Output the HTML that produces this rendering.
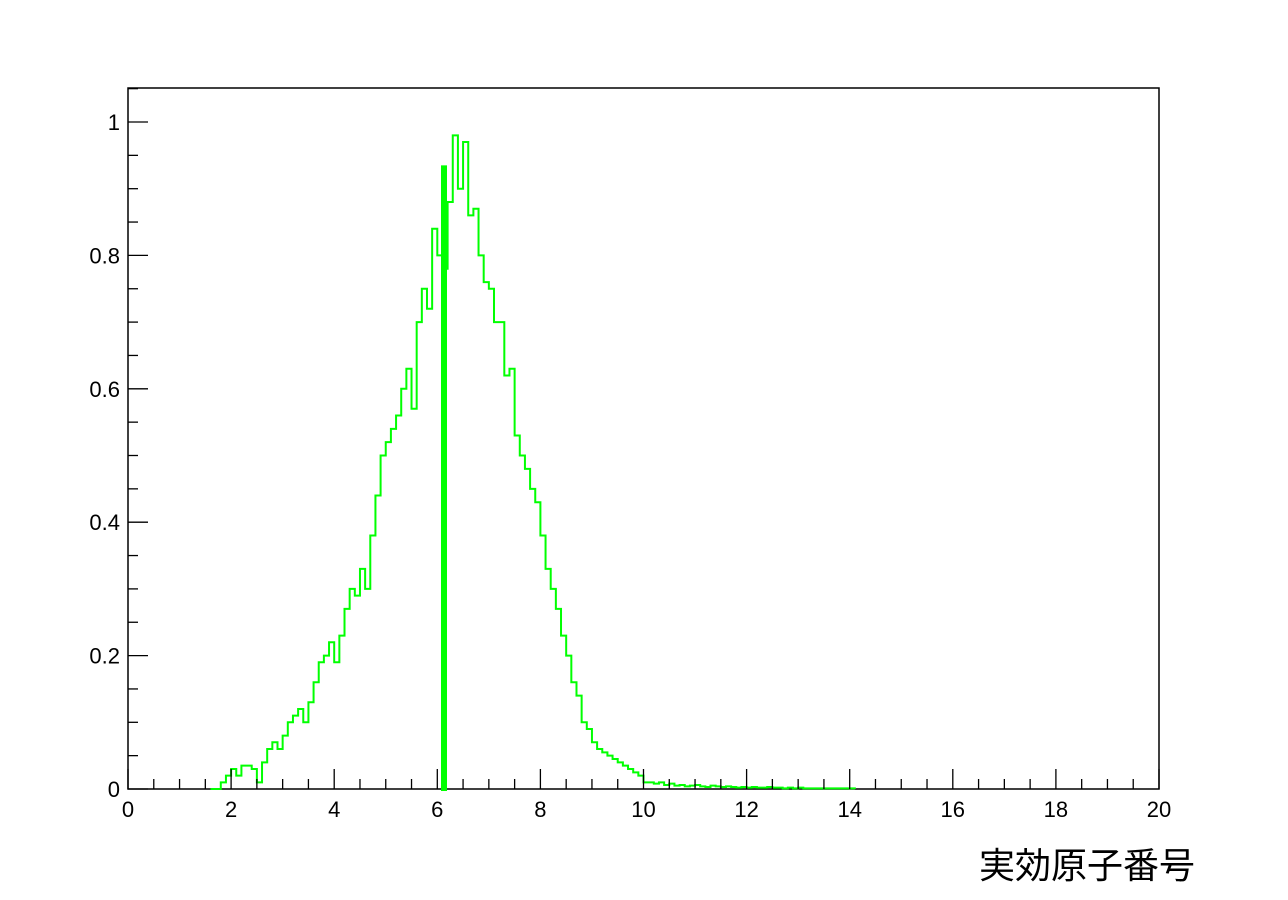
<!DOCTYPE html>
<html><head><meta charset="utf-8"><style>
body{margin:0;background:#fff;}
svg text{font-family:"Liberation Sans","Noto Sans CJK JP",sans-serif;}
</style></head><body>
<svg id="chart" width="1288" height="895">
<rect x="128" y="88" width="1031" height="701" fill="none" stroke="#000" stroke-width="1.5"/>
<g id="series"></g>
<g id="axes"></g>
<text x="1195" y="878" font-size="36" text-anchor="end">実効原子番号</text>
</svg>
<script>
const binStart = 1.6;
const binWidth = 0.1;
const binValues = [0,0,0.01,0.02,0.03,0.02,0.035,0.035,0.03,0.01,0.04,0.06,0.07,0.06,0.08,0.1,0.11,0.12,0.1,0.13,0.16,0.19,0.2,0.22,0.19,0.23,0.27,0.3,0.29,0.33,0.3,0.38,0.44,0.5,0.52,0.54,0.56,0.6,0.63,0.57,0.7,0.75,0.72,0.84,0.8,0.78,0.88,0.98,0.9,0.97,0.86,0.87,0.8,0.76,0.75,0.7,0.7,0.62,0.63,0.53,0.5,0.48,0.45,0.43,0.38,0.33,0.3,0.27,0.23,0.2,0.16,0.14,0.1,0.09,0.07,0.06,0.055,0.05,0.045,0.04,0.035,0.03,0.025,0.02,0.01,0.01,0.008,0.01,0.006,0.008,0.005,0.006,0.004,0.005,0.006,0.004,0.003,0.005,0.004,0.003,0.004,0.003,0.002,0.003,0.002,0.003,0.002,0.002,0.003,0.002,0.002,0.001,0.002,0.001,0.002,0.001,0.001,0.001,0.001,0.001,0.001,0.001,0.001,0.001,0.001];
const spikeX = [6.13];
const spikeValue = [0.935];
const xTicks = [0,2,4,6,8,10,12,14,16,18,20];
const yTicks = [0,0.2,0.4,0.6,0.8,1];
const yTickLabels = ["0","0.2","0.4","0.6","0.8","1"];

const X0=128,X1=1159,Y0=789,Y1=122;
const sx = v => X0 + (v-0)/20*(X1-X0);
const sy = v => Y0 - v*(Y0-Y1);
const NS="http://www.w3.org/2000/svg";
const series=document.getElementById('series'), axes=document.getElementById('axes');

let d = `M${sx(binStart)},${sy(0)}`;
binValues.forEach((v,i)=>{
  const a=binStart+i*binWidth;
  d+=` L${sx(a)},${sy(v)} L${sx(a+binWidth)},${sy(v)}`;
});
d+=` L${sx(binStart+binValues.length*binWidth)},${sy(0)}`;
const p=document.createElementNS(NS,'path');
p.setAttribute('d',d);p.setAttribute('fill','none');p.setAttribute('stroke','#00ff00');p.setAttribute('stroke-width','2');


series.appendChild(p);

spikeX.forEach((x,i)=>{
  const r=document.createElementNS(NS,'rect');
  r.setAttribute('x',sx(x)-3);r.setAttribute('y',sy(spikeValue[i]));r.setAttribute('width',6);r.setAttribute('height',sy(0)-sy(spikeValue[i])+2);r.setAttribute('fill','#00ff00');
  
  
  series.appendChild(r);
});

function line(x1,y1,x2,y2,name){
  const l=document.createElementNS(NS,'line');
  l.setAttribute('x1',x1);l.setAttribute('y1',y1);l.setAttribute('x2',x2);l.setAttribute('y2',y2);
  l.setAttribute('stroke','#000');l.setAttribute('stroke-width','1.3');
  
  
  axes.appendChild(l);
}
function text(x,y,s,anchor,name){
  const t=document.createElementNS(NS,'text');
  t.setAttribute('x',x);t.setAttribute('y',y);t.setAttribute('font-size','22');t.setAttribute('text-anchor',anchor);
  t.textContent=s;
  
  
  axes.appendChild(t);
}
for(let k=0;k<=40;k++){
  const v=k*0.5, major=(k%4===0);
  line(sx(v),Y0,sx(v),Y0-(major?20:10),'x-tick');
}
for(let k=0;k<=21;k++){
  const v=k*0.05, major=(k%4===0);
  if(sy(v)<88) continue;
  line(X0,sy(v),X0+(major?20:10),sy(v),'y-tick');
}
xTicks.forEach(v=>text(sx(v),817,String(v),'middle','x-tick-label'));
yTicks.forEach((v,i)=>text(X0-8,sy(v)+8,yTickLabels[i],'end','y-tick-label'));
</script>
</body></html>
